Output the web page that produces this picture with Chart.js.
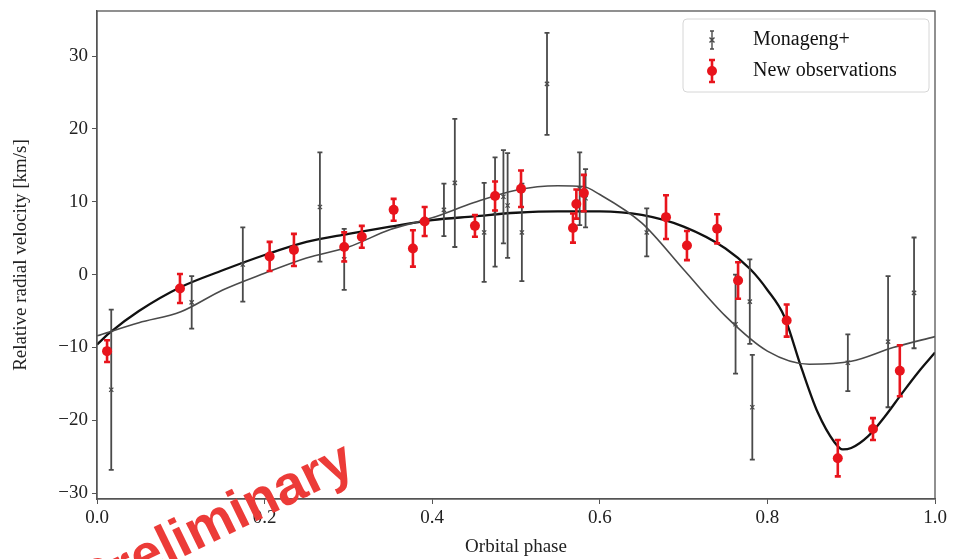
<!DOCTYPE html>
<html>
<head>
<meta charset="utf-8">
<script src="https://cdn.jsdelivr.net/npm/chart.js@4/dist/chart.umd.min.js"></script>
<style>
  html, body { margin: 0; padding: 0; background: #fff; }
  #wrap { width: 960px; height: 559px; position: relative; }
</style>
</head>
<body>
<div id="wrap"><canvas id="rv"></canvas></div>
<script>
// Monageng+ radial velocities (phase, km/s, error)
var monPhase = [0.017, 0.113, 0.174, 0.266, 0.295, 0.414, 0.427, 0.462, 0.475, 0.485, 0.490, 0.507, 0.537, 0.576, 0.583, 0.656, 0.762, 0.779, 0.782, 0.896, 0.944, 0.975];
var monVel   = [-15.8, -3.8, 1.4, 9.3, 2.1, 8.9, 12.6, 5.8, 8.6, 10.7, 9.5, 5.8, 26.2, 11.8, 10.5, 5.8, -6.8, -3.7, -18.2, -12.1, -9.2, -2.5];
var monErr   = [11.0, 3.6, 5.1, 7.5, 4.2, 3.6, 8.8, 6.8, 7.5, 6.4, 7.2, 6.7, 7.0, 5.0, 4.0, 3.3, 6.8, 5.8, 7.2, 3.9, 9.0, 7.6];

// New observations
var newPhase = [0.012, 0.099, 0.206, 0.235, 0.295, 0.316, 0.354, 0.377, 0.391, 0.451, 0.475, 0.506, 0.568, 0.572, 0.581, 0.679, 0.704, 0.740, 0.765, 0.823, 0.884, 0.926, 0.958];
var newVel   = [-10.5, -1.9, 2.5, 3.4, 3.8, 5.2, 8.9, 3.6, 7.3, 6.7, 10.8, 11.8, 6.4, 9.7, 11.2, 7.9, 4.0, 6.3, -0.8, -6.3, -25.2, -21.2, -13.2];
var newErr   = [1.5, 2.0, 2.0, 2.2, 2.0, 1.5, 1.5, 2.5, 2.0, 1.5, 2.0, 2.5, 2.0, 2.0, 2.5, 3.0, 2.0, 2.0, 2.5, 2.2, 2.5, 1.5, 3.5];

// orbit fits
var fitNewPhase = [0.0, 0.015, 0.05, 0.1, 0.15, 0.2, 0.25, 0.3, 0.35, 0.4, 0.45, 0.5, 0.55, 0.6, 0.65, 0.7, 0.75, 0.78, 0.8, 0.82, 0.84, 0.86, 0.88, 0.89, 0.9, 0.92, 0.94, 0.96, 0.98, 1.0];
var fitNewVel   = [-9.6, -8.0, -5.0, -1.7, 0.6, 2.7, 4.5, 5.6, 6.6, 7.5, 8.0, 8.5, 8.7, 8.7, 8.2, 6.6, 3.6, 0.7, -2.1, -5.7, -12.6, -18.9, -23.0, -24.0, -23.8, -22.2, -19.5, -16.4, -13.4, -10.7];
var fitMonPhase = [0.0, 0.05, 0.1, 0.15, 0.2, 0.25, 0.3, 0.35, 0.4, 0.45, 0.5, 0.55, 0.58, 0.6, 0.65, 0.7, 0.75, 0.8, 0.85, 0.9, 0.95, 1.0];
var fitMonVel   = [-8.4, -6.6, -5.1, -2.1, 0.2, 2.3, 3.8, 6.2, 7.8, 9.9, 11.6, 12.2, 12.1, 11.0, 7.1, 0.7, -5.7, -10.5, -12.3, -11.9, -10.0, -8.5];

var xTicks = [0, 0.2, 0.4, 0.6, 0.8, 1.0];
var yTicks = [-30, -20, -10, 0, 10, 20, 30];

var SERIF = '"Liberation Serif", "DejaVu Serif", serif';
var GREY = '#4a4a4a';
var RED = '#e8141c';

function pts(xs, ys) {
  return xs.map(function(x, i) { return { x: x, y: ys[i] }; });
}

// error bars drawn through the scales
function drawErr(ctx, xs, ys, es, color, lw, cap, sx, sy) {
  ctx.save();
  ctx.strokeStyle = color;
  ctx.lineWidth = lw;
  xs.forEach(function(x, i) {
    var px = sx.getPixelForValue(x);
    var top = sy.getPixelForValue(ys[i] + es[i]);
    var bot = sy.getPixelForValue(ys[i] - es[i]);
    ctx.beginPath();
    ctx.moveTo(px, top); ctx.lineTo(px, bot);
    ctx.moveTo(px - cap, top); ctx.lineTo(px + cap, top);
    ctx.moveTo(px - cap, bot); ctx.lineTo(px + cap, bot);
    ctx.stroke();
  });
  ctx.restore();
}

var errPlugin = {
  id: 'errbars',
  beforeDatasetDraw: function(chart, args) {
    var sx = chart.scales.x, sy = chart.scales.y, ctx = chart.ctx;
    var a = chart.chartArea;
    ctx.save();
    ctx.beginPath(); ctx.rect(a.left, a.top, a.right - a.left, a.bottom - a.top); ctx.clip();
    if (args.index === 2) drawErr(ctx, monPhase, monVel, monErr, GREY, 1.8, 2.5, sx, sy);
    if (args.index === 3) drawErr(ctx, newPhase, newVel, newErr, RED, 2.6, 3, sx, sy);
    ctx.restore();
  }
};

var framePlugin = {
  id: 'frame',
  afterDraw: function(chart) {
    var ctx = chart.ctx, a = chart.chartArea;
    ctx.save();
    ctx.strokeStyle = '#555';
    ctx.lineWidth = 1.3;
    ctx.strokeRect(a.left, a.top, a.right - a.left, a.bottom - a.top);

    // legend box
    var lx = 683, ly = 19, lw = 246, lh = 73;
    ctx.fillStyle = 'rgba(255,255,255,0.85)';
    ctx.strokeStyle = '#d6d6d6';
    ctx.lineWidth = 1;
    ctx.beginPath();
    ctx.roundRect(lx, ly, lw, lh, 4);
    ctx.fill(); ctx.stroke();

    // legend symbols
    var mx = 712;
    ctx.strokeStyle = GREY; ctx.lineWidth = 1.4;
    ctx.beginPath();
    ctx.moveTo(mx, 31); ctx.lineTo(mx, 49);
    ctx.moveTo(mx - 2, 31); ctx.lineTo(mx + 2, 31);
    ctx.moveTo(mx - 2, 49); ctx.lineTo(mx + 2, 49);
    ctx.moveTo(mx - 2.5, 37.5); ctx.lineTo(mx + 2.5, 42.5);
    ctx.moveTo(mx + 2.5, 37.5); ctx.lineTo(mx - 2.5, 42.5);
    ctx.stroke();
    ctx.strokeStyle = RED; ctx.lineWidth = 2.6;
    ctx.beginPath();
    ctx.moveTo(mx, 60); ctx.lineTo(mx, 82);
    ctx.moveTo(mx - 3, 60); ctx.lineTo(mx + 3, 60);
    ctx.moveTo(mx - 3, 82); ctx.lineTo(mx + 3, 82);
    ctx.stroke();
    ctx.fillStyle = RED;
    ctx.beginPath(); ctx.arc(mx, 71, 5, 0, Math.PI * 2); ctx.fill();

    ctx.fillStyle = '#111';
    ctx.font = '20px ' + SERIF;
    ctx.textBaseline = 'middle';
    ctx.textAlign = 'left';
    ctx.fillText('Monageng+', 753, 40);
    ctx.fillText('New observations', 753, 71);

    // watermark
    ctx.translate(216, 524);
    ctx.rotate(-26 * Math.PI / 180);
    ctx.fillStyle = '#ec3b38';
    ctx.font = 'bold 55px "Liberation Sans", Arial, sans-serif';
    ctx.textAlign = 'center';
    ctx.fillText('Preliminary', 0, 0);
    ctx.restore();
  }
};

new Chart(document.getElementById('rv'), {
  type: 'scatter',
  data: {
    datasets: [
      {
        label: 'fit new', data: pts(fitNewPhase, fitNewVel), showLine: true,
        borderColor: '#111', borderWidth: 2.3, pointRadius: 0, cubicInterpolationMode: 'monotone', order: 4
      },
      {
        label: 'fit Monageng', data: pts(fitMonPhase, fitMonVel), showLine: true,
        borderColor: '#4a4a4a', borderWidth: 1.6, pointRadius: 0, cubicInterpolationMode: 'monotone', order: 3
      },
      {
        label: 'Monageng+', data: pts(monPhase, monVel),
        pointStyle: 'crossRot', pointRadius: 3, borderColor: GREY, borderWidth: 1.2,
        backgroundColor: GREY, order: 2
      },
      {
        label: 'New observations', data: pts(newPhase, newVel),
        pointStyle: 'circle', pointRadius: 5, borderColor: RED, borderWidth: 0,
        backgroundColor: RED, order: 1
      }
    ]
  },
  options: {
    responsive: true,
    maintainAspectRatio: false,
    animation: false,
    layout: { padding: { top: 11, right: 25, left: 0, bottom: 0 } },
    plugins: {
      legend: { display: false },
      tooltip: { enabled: false }
    },
    scales: {
      x: {
        type: 'linear', min: 0, max: 1,
        afterFit: function(s) { s.height = 60; },
        afterBuildTicks: function(s) { s.ticks = xTicks.map(function(v) { return { value: v }; }); },
        grid: { drawOnChartArea: false, drawTicks: true, tickLength: 5, color: '#555' },
        border: { display: true, color: '#555', width: 1.3 },
        ticks: {
          padding: 3, color: '#222', font: { family: SERIF, size: 19 },
          callback: function(v) { return v.toFixed(1); }
        },
        title: { display: true, text: 'Orbital phase', color: '#222', font: { family: SERIF, size: 19 }, padding: { top: 0, bottom: 1 } }
      },
      y: {
        type: 'linear', min: -30.8, max: 36.2,
        afterFit: function(s) { s.width = 97; s.paddingTop = 0; s.paddingBottom = 0; },
        afterBuildTicks: function(s) { s.ticks = yTicks.map(function(v) { return { value: v }; }); },
        grid: { drawOnChartArea: false, drawTicks: true, tickLength: 5, color: '#555' },
        border: { display: true, color: '#555', width: 1.3 },
        ticks: {
          padding: 4, color: '#222', font: { family: SERIF, size: 19 },
          callback: function(v) { return v < 0 ? '\u2212' + Math.abs(v) : String(v); }
        },
        title: { display: true, text: 'Relative radial velocity [km/s]', color: '#222', font: { family: SERIF, size: 19 }, padding: { top: 10, bottom: 0 } }
      }
    }
  },
  plugins: [errPlugin, framePlugin]
});
</script>
</body>
</html>
